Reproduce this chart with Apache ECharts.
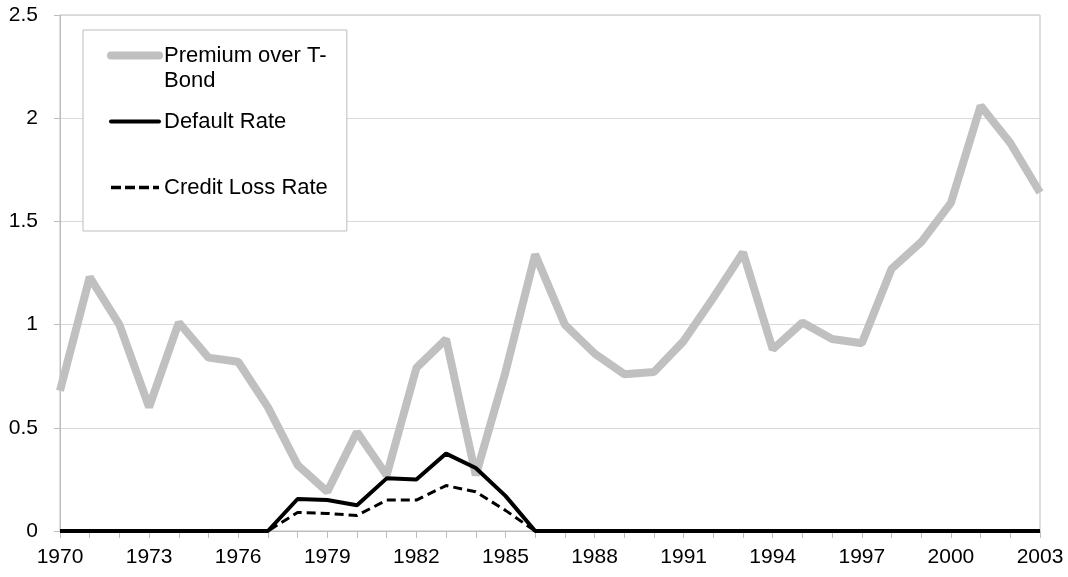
<!DOCTYPE html>
<html>
<head>
<meta charset="UTF-8">
<title></title>
<script src="https://cdn.jsdelivr.net/npm/echarts@6/dist/echarts.min.js"></script>
</head>
<body style="margin:0">
    <div id='container' style="width: 1068px; height: 577px;"></div>
    <script type="text/javascript">
    // years on the x axis
    var years = [];
    for (var y = 1970; y <= 2003; y++) { years.push(String(y)); }

    // premium over T-Bond
    var premium = [0.68, 1.23, 1.00, 0.60, 1.01, 0.84, 0.82, 0.60, 0.32, 0.19,
                   0.48, 0.27, 0.79, 0.93, 0.27, 0.77, 1.34, 1.00, 0.86, 0.76,
                   0.77, 0.92, 1.13, 1.35, 0.88, 1.01, 0.93, 0.91, 1.27, 1.40,
                   1.59, 2.06, 1.88, 1.64];
    // default rate
    var defaultRate = [0, 0, 0, 0, 0, 0, 0, 0, 0.155, 0.15,
                       0.125, 0.255, 0.25, 0.375, 0.305, 0.17, 0, 0, 0, 0,
                       0, 0, 0, 0, 0, 0, 0, 0, 0, 0,
                       0, 0, 0, 0];
    // credit loss rate
    var creditLoss = [0, 0, 0, 0, 0, 0, 0, 0, 0.09, 0.085,
                      0.075, 0.15, 0.15, 0.22, 0.19, 0.10, 0, 0, 0, 0,
                      0, 0, 0, 0, 0, 0, 0, 0, 0, 0,
                      0, 0, 0, 0];

    // legend labels, wrapped as in the original
    var legendText = {
        'Premium over T-Bond': 'Premium over T-\nBond',
        'Default Rate': 'Default Rate',
        'Credit Loss Rate': 'Credit Loss Rate'
    };

    var font = 'Liberation Sans, Arial, sans-serif';
    var mychart = echarts.init(document.getElementById("container"));
    var option = {
        animation: false,
        grid: {
            left: 60, right: 28, top: 15, bottom: 46,
            show: true, borderColor: '#bdbdbd', borderWidth: 1
        },
        legend: {
            orient: 'vertical',
            left: 83, top: 30,
            padding: [-12, 19, 6, 24],
            itemGap: -9,
            itemWidth: 48, itemHeight: 14,
            borderColor: '#bdbdbd', borderWidth: 1,
            backgroundColor: '#fff',
            itemStyle: { color: 'rgba(0,0,0,0)', borderColor: 'rgba(0,0,0,0)', borderWidth: 0 },
            textStyle: { fontFamily: font, fontSize: 22, color: '#000', lineHeight: 25 },
            // every label is 3 lines tall so the first text line sits on the icon
            formatter: function (name) {
                var t = legendText[name];
                return t.indexOf('\n') >= 0 ? '\n' + t : '\n' + t + '\n';
            },
            data: [
                { name: 'Premium over T-Bond', lineStyle: { width: 8, cap: 'round' } },
                { name: 'Default Rate', lineStyle: { width: 4, cap: 'round' } },
                { name: 'Credit Loss Rate', lineStyle: { width: 3.5, type: [10, 4] } }
            ]
        },
        xAxis: {
            type: 'category',
            data: years,
            boundaryGap: false,
            axisLine: { lineStyle: { color: '#bdbdbd' } },
            axisTick: { show: true, interval: 0, length: 7, lineStyle: { color: '#bdbdbd' } },
            axisLabel: { interval: 2, fontFamily: font, fontSize: 21, color: '#000', margin: 16 },
            splitLine: { show: false }
        },
        yAxis: {
            type: 'value',
            min: 0, max: 2.5, interval: 0.5,
            axisLine: { show: true, lineStyle: { color: '#bdbdbd' } },
            axisTick: { show: true, length: 6, lineStyle: { color: '#bdbdbd' } },
            axisLabel: { fontFamily: font, fontSize: 21, color: '#000', margin: 22 },
            splitLine: { lineStyle: { color: '#d9d9d9' } }
        },
        series: [
            {
                name: 'Premium over T-Bond', type: 'line', data: premium,
                symbol: 'none', color: '#c0c0c0',
                lineStyle: { width: 8, color: '#c0c0c0' }
            },
            {
                name: 'Credit Loss Rate', type: 'line', data: creditLoss,
                symbol: 'none', color: '#000',
                lineStyle: { width: 3, color: '#000', type: [9, 5] }
            },
            {
                name: 'Default Rate', type: 'line', data: defaultRate,
                symbol: 'none', color: '#000',
                lineStyle: { width: 4, color: '#000' }
            }
        ]
    };
    mychart.setOption(option);
    </script>
</body>
</html>
